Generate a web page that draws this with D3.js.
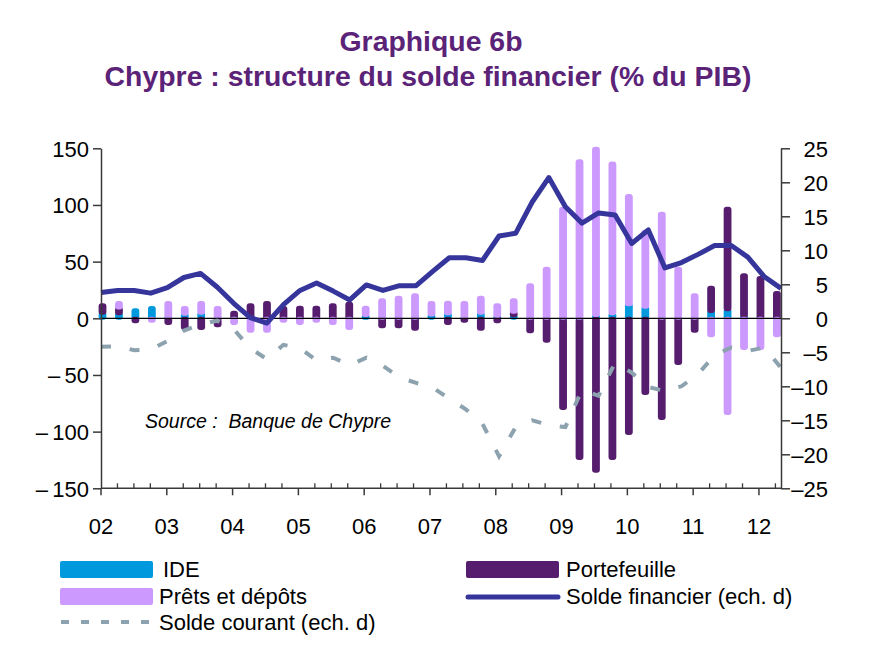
<!DOCTYPE html>
<html><head><meta charset="utf-8">
<script src="https://cdn.jsdelivr.net/npm/d3@7/dist/d3.min.js"></script>
<style>body{margin:0;background:#fff} text{font-family:"Liberation Sans",Arial,sans-serif}</style>
</head><body><svg id="c" width="890" height="666"></svg>
<script>
const quarters = ["02T1","02T2","02T3","02T4","03T1","03T2","03T3","03T4","04T1","04T2","04T3","04T4",
 "05T1","05T2","05T3","05T4","06T1","06T2","06T3","06T4","07T1","07T2","07T3","07T4",
 "08T1","08T2","08T3","08T4","09T1","09T2","09T3","09T4","10T1","10T2","10T3","10T4",
 "11T1","11T2","11T3","11T4","12T1","12T2"];
const ide = [4.5,4,7.5,9.5,1,3.5,4.5,0,0,0,0,0,0,0,0,0,2.5,0,0,0,3,4,1,4.5,1.5,2.2,0,0,-1,-1,2.5,4,12,9.8,0,0,0,6,7.5,1.5,0.5,0];
const portefeuille = [7.5,5,-3,0,-4.5,-9,-9,-6.6,5.4,11.9,14,9.6,9.8,9.8,11.9,13.3,0,-7.5,-7.5,-9.6,0,-4.6,-2.6,-9.6,-3.1,3.2,-11.9,-20.2,-78.6,-122.7,-135,-123.7,-101.7,-66.4,-88.4,-39.9,-11.4,21.4,89.7,37,35.5,22.8];
const prets = [0,5,0,-2.5,13,6,9.5,9.5,-4.6,-11.4,-11.4,-2.6,-4.6,-2.6,-4.6,-9,7.3,16.3,18.6,20.7,10.9,10.2,13,14.1,10.4,10.9,29.6,44.2,97.2,139,147.5,133,96.4,67,92.8,44.2,20.7,-15.4,-84,-26.7,-26.7,-15.4];
const soldeFinancier = [3.8,4.1,4.1,3.7,4.5,6.0,6.6,4.6,2.2,0.1,-0.7,2.0,4.1,5.2,4.0,2.7,4.9,4.1,4.8,4.8,6.9,8.9,8.9,8.5,12.1,12.5,17.1,20.7,16.4,14.0,15.5,15.2,11.0,13.0,7.4,8.2,9.4,10.7,10.7,9.0,6.1,4.4];
const soldeCourant = [-4.2,-4.1,-4.7,-4.6,-3.35,-1.8,-0.9,-0.35,-1.6,-4.4,-6.0,-3.9,-4.4,-6.2,-5.8,-6.9,-5.8,-7.0,-8.7,-9.5,-10.2,-11.8,-13.4,-15.5,-20.3,-16.0,-15.0,-15.7,-16.0,-10.5,-11.4,-6.5,-8.0,-10.1,-10.7,-10.0,-8.2,-5.4,-4.3,-4.8,-4.3,-7.3];
const yearLabels = ["02","03","04","05","06","07","08","09","10","11","12"];
const leftTicks = [150,100,50,0,-50,-100,-150];
const rightTicks = [25,20,15,10,5,0,-5,-10,-15,-20,-25];
const seriesNames = {IDE:"IDE", Portefeuille:"Portefeuille", Prets:"Prêts et dépôts", SF:"Solde financier (ech. d)", SC:"Solde courant (ech. d)"};

const svg = d3.select("#c");
const plot = {left:101, right:781, top:148.3, bottom:488.3};
const xBar = d3.scaleLinear().domain([0, 41.34]).range([plot.left, plot.right]);
const xLine = d3.scaleLinear().domain([0, quarters.length-1]).range([plot.left, plot.right]);
const yL = d3.scaleLinear().domain([-150,150]).range([plot.bottom, plot.top]);
const yR = d3.scaleLinear().domain([-25,25]).range([plot.bottom, plot.top]);
const colors = {IDE:"#0099DD", Portefeuille:"#561D6E", Prets:"#CC99FF", SF:"#35359B", SC:"#8CA2AE"};
const axisColor = "#3a3a3a";
const fmtL = v => v < 0 ? "\u2013\u2009" + Math.abs(v) : String(v);
const fmtR = v => v < 0 ? "\u2013" + Math.abs(v) : String(v);

// Title
const title = svg.append("g").attr("fill","#5B2378").attr("font-weight","bold").attr("text-anchor","middle").attr("font-size",28.4);
title.append("text").attr("x",431).attr("y",51).text("Graphique 6b");
title.append("text").attr("x",428).attr("y",86).text("Chypre : structure du solde financier (% du PIB)");

// Bars
const rows = quarters.map((q,i)=>({i, IDE:ide[i], Portefeuille:portefeuille[i], Prets:prets[i]}));
const keys = ["IDE","Portefeuille","Prets"];
const stacked = d3.stack().keys(keys).offset(d3.stackOffsetDiverging)(rows);
stacked.forEach(layer=>{
  svg.append("g").selectAll("rect").data(layer.filter(d=>d[1]!==d[0])).join("rect")
    .attr("x", d=>xBar(d.data.i)+1.5-3.9)
    .attr("width", 7.8)
    .attr("y", d=>yL(Math.max(d[0],d[1]))-1.5)
    .attr("height", d=>Math.abs(yL(d[0])-yL(d[1]))+3)
    .attr("rx", 3)
    .attr("fill", colors[layer.key]);
});

// zero line
svg.append("line").attr("x1",plot.left).attr("x2",plot.right).attr("y1",yL(0)).attr("y2",yL(0))
  .attr("stroke","#000").attr("stroke-width",1.3);

// Lines
const line = d3.line().x((d,i)=>xLine(i)).y(d=>yR(d));
svg.append("path").attr("d", line(soldeCourant)).attr("fill","none").attr("stroke",colors.SC)
  .attr("stroke-width",4).attr("stroke-dasharray","10,19");
svg.append("path").attr("d", line(soldeFinancier)).attr("fill","none").attr("stroke",colors.SF)
  .attr("stroke-width",5).attr("stroke-linejoin","round");

// Left axis
const gl = svg.append("g").attr("transform",`translate(${plot.left},0)`)
  .call(d3.axisLeft(yL).tickValues(leftTicks).tickFormat(fmtL).tickSize(8).tickSizeOuter(0).tickPadding(4));
gl.select(".domain").attr("stroke",axisColor).attr("stroke-width",1.5);
gl.selectAll(".tick line").attr("stroke",axisColor).attr("stroke-width",1.5);
gl.selectAll(".tick text").attr("font-size",22).attr("font-family","Liberation Sans, Arial").attr("fill","#000").attr("dy","0.36em");

// Right axis
const gr = svg.append("g").attr("transform",`translate(${plot.right},0)`)
  .call(d3.axisRight(yR).tickValues(rightTicks).tickFormat(fmtR).tickSize(9).tickSizeOuter(0));
gr.select(".domain").attr("stroke",axisColor).attr("stroke-width",1.5);
gr.selectAll(".tick line").attr("stroke",axisColor).attr("stroke-width",1.5);
gr.selectAll(".tick text").attr("font-size",22).attr("font-family","Liberation Sans, Arial").attr("fill","#000")
  .attr("text-anchor","end").attr("x",47).attr("dy","0.36em");

// Bottom axis
const gb = svg.append("g");
gb.append("line").attr("x1",plot.left).attr("x2",plot.right).attr("y1",plot.bottom).attr("y2",plot.bottom)
  .attr("stroke",axisColor).attr("stroke-width",1.5);
gb.selectAll("line.minor").data(quarters.map((q,i)=>i).filter(i=>i%4!==0)).join("line").attr("class","minor")
  .attr("x1",i=>xBar(i)).attr("x2",i=>xBar(i)).attr("y1",plot.bottom-5).attr("y2",plot.bottom)
  .attr("stroke",axisColor).attr("stroke-width",1.3);
gb.selectAll("line.major").data(yearLabels).join("line").attr("class","major")
  .attr("x1",(d,k)=>xBar(4*k)).attr("x2",(d,k)=>xBar(4*k)).attr("y1",plot.bottom).attr("y2",plot.bottom+7)
  .attr("stroke",axisColor).attr("stroke-width",1.5);
gb.selectAll("text").data(yearLabels).join("text")
  .attr("x",(d,k)=>xBar(4*k)).attr("y",534).attr("text-anchor","middle").attr("font-size",22).text(d=>d);

// Source
svg.append("text").attr("x",145).attr("y",428).attr("font-size",19.5).attr("font-style","italic")
  .text("Source :\u00a0 Banque de Chypre");

// Legend
const lg = svg.append("g").attr("font-size",22);
function legRect(x,y,c){ lg.append("rect").attr("x",x).attr("y",y).attr("width",93).attr("height",17).attr("rx",2).attr("fill",c); }
legRect(60,561,colors.IDE);
lg.append("text").attr("x",163).attr("y",577).text(seriesNames.IDE);
legRect(466,561,colors.Portefeuille);
lg.append("text").attr("x",566).attr("y",577).text(seriesNames.Portefeuille);
legRect(60,588,colors.Prets);
lg.append("text").attr("x",159).attr("y",604).text(seriesNames.Prets);
lg.append("line").attr("x1",468).attr("x2",558).attr("y1",597).attr("y2",597).attr("stroke",colors.SF).attr("stroke-width",5).attr("stroke-linecap","round");
lg.append("text").attr("x",566).attr("y",604).text(seriesNames.SF);
lg.append("line").attr("x1",61).attr("x2",153).attr("y1",622).attr("y2",622).attr("stroke",colors.SC).attr("stroke-width",4).attr("stroke-dasharray","8,12");
lg.append("text").attr("x",159).attr("y",630).text(seriesNames.SC);
</script></body></html>
